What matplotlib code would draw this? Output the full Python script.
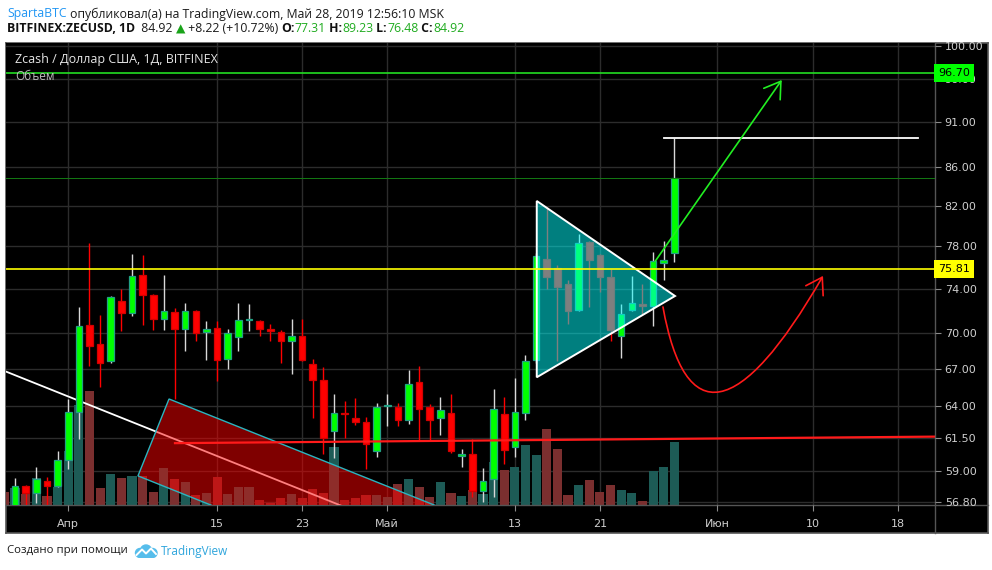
import numpy as np
import pandas as pd
import matplotlib
matplotlib.use('Agg')
import matplotlib.pyplot as plt
import matplotlib.dates as mdates
import matplotlib.transforms as mtransforms
from matplotlib.patches import Polygon, FancyArrowPatch, Circle, Rectangle
from matplotlib.path import Path
from matplotlib.lines import Line2D
from matplotlib.ticker import FixedLocator, NullLocator, FuncFormatter

W, H = 992, 570

# ---- data ----
candle_dates = pd.date_range('2019-03-27', '2019-05-28', freq='D')
opens = [56.5, 57.9, 57.4, 58.3, 57.9,
         59.8, 63.5, 70.7, 69.1, 67.6, 72.9, 71.8, 75.3, 73.4, 71.3,
         71.9, 70.4, 72.0, 70.1, 70.5, 67.8, 69.7, 71.15, 71.1, 70.4,
         70.1, 69.3, 69.75, 67.4, 66.1, 62.0, 63.4, 63.0, 62.7, 60.5,
         63.95, 63.9, 62.85, 65.9, 63.9, 63.06, 63.4, 60.15, 60.3, 57.6,
         58.4, 63.37, 60.8, 63.45, 67.75, 76.75, 75.9, 74.4, 72.1, 78.4,
         77.1, 75.1, 69.75, 72.1, 72.6, 72.4, 76.4, 77.31]
highs = [58.5, 58.0, 59.3, 58.6, 60.5,
         64.55, 72.3, 78.3, 71.6, 73.3, 74.0, 77.2, 77.1, 73.5, 75.3,
         72.2, 72.7, 72.1, 71.1, 71.1, 70.4, 72.7, 72.6, 71.2, 70.8,
         70.3, 71.3, 71.3, 67.8, 67.1, 64.95, 64.4, 64.6, 63.1, 64.2,
         64.95, 64.2, 66.9, 67.2, 64.1, 64.7, 64.95, 60.65, 61.4, 59.2,
         65.35, 64.7, 66.25, 68.16, 77.3, 81.9, 76.2, 74.75, 79.15, 78.5,
         77.2, 75.8, 72.6, 75.2, 74.4, 77.45, 78.5, 89.23]
lows = [56.0, 56.5, 56.7, 56.6, 57.85,
        59.15, 61.4, 67.2, 65.5, 67.5, 70.2, 71.5, 70.7, 70.3, 70.3,
        64.5, 68.5, 69.3, 67.75, 66.0, 67.0, 68.5, 70.2, 69.8, 69.3,
        67.5, 66.6, 67.6, 63.05, 60.3, 60.0, 61.5, 62.5, 59.15, 60.05,
        62.4, 62.4, 62.55, 61.35, 61.35, 61.7, 60.35, 59.3, 57.15, 56.8,
        57.15, 59.5, 60.05, 62.9, 67.5, 74.0, 67.6, 70.8, 71.95, 72.3,
        73.7, 69.3, 67.9, 71.95, 71.7, 70.6, 74.75, 76.48]
closes = [57.9, 57.4, 58.4, 57.9, 59.8,
          63.5, 70.6, 68.9, 67.5, 73.2, 71.8, 75.2, 73.4, 71.3, 72.0,
          70.4, 72.0, 70.0, 70.4, 67.75, 70.0, 71.2, 71.25, 70.4, 70.2,
          69.3, 69.75, 67.7, 66.1, 61.5, 63.4, 63.35, 62.7, 61.0, 63.9,
          64.05, 62.9, 65.75, 63.75, 62.9, 63.68, 60.5, 60.25, 57.6, 58.3,
          63.75, 60.6, 63.5, 67.66, 77.05, 75.1, 74.1, 72.0, 78.3, 76.65,
          75.1, 70.26, 71.7, 72.7, 72.4, 76.55, 76.7, 84.92]

vol_dates = pd.date_range('2019-03-26', '2019-05-28', freq='D')
volumes = [13, 17, 11, 27, 9, 18,
           54, 100, 114, 17, 31, 27, 29, 29, 13, 37,
           26, 23, 10, 12, 28, 11, 18, 18, 5, 2,
           7, 11, 7, 16, 12, 58, 5, 7, 10, 10,
           8, 21, 26, 18, 8, 23, 12, 9, 15, 11,
           43, 35, 38, 60, 50, 76, 56, 10, 20, 25,
           13, 20, 15, 12, 4, 34, 38, 63]
vol_first_up = False

price_ticks = [100.0, 96.0, 91.0, 86.0, 82.0, 78.0, 74.0, 70.0, 67.0, 64.0, 61.5, 59.0, 56.8]
date_ticks = ['2019-04-01', '2019-04-15', '2019-04-23', '2019-05-01', '2019-05-13',
              '2019-05-21', '2019-06-01', '2019-06-10', '2019-06-18']
date_labels = ['Апр', '15', '23', 'Май', '13', '21', 'Июн', '10', '18']

level_green = 96.70
level_yellow = 75.81
last_close = 84.92
last_high = 89.23

UP = '#00ff00'
UP_EDGE = '#22a085'
DOWN = '#ff0000'
VOL_UP = '#1d5b56'
VOL_DOWN = '#7b2f2f'
GRID = '#2c2c2c'
FRAME = '#555555'


def fx(px):
    return px / W


def fy(py):
    return 1 - py / H


def dnum(s, off=0.0):
    return mdates.date2num(pd.Timestamp(s)) + off


fig = plt.figure(figsize=(W / 100, H / 100), dpi=100, facecolor='white')

# black chart frame
bg = fig.add_axes([fx(6), fy(533), fx(988) - fx(6), (533 - 43) / H], zorder=0)
bg.set_facecolor('black')
bg.set_xticks([])
bg.set_yticks([])
for s in bg.spines.values():
    s.set_color(FRAME)
    s.set_linewidth(1.2)

rect = [fx(6), fy(505), fx(935) - fx(6), (505 - 43) / H]
ax_v = fig.add_axes(rect, zorder=1)
ax = fig.add_axes(rect, zorder=2, sharex=ax_v)
ax_v.set_facecolor('black')
ax.set_facecolor('none')

x_c = mdates.date2num(candle_dates)
x_v = mdates.date2num(vol_dates)
o = np.array(opens)
h = np.array(highs)
l = np.array(lows)
c = np.array(closes)
up = c >= o

ax.set_yscale('log')
ax.set_ylim(56.58, 100.34)
ax.set_xlim(dnum('2019-04-01', -5.85), dnum('2019-04-01', 81.51))

# grid behind volume
gtrans = mtransforms.blended_transform_factory(ax_v.transAxes, ax.transData)
for p in price_ticks:
    ax_v.add_line(Line2D([0, 1], [p, p], transform=gtrans, color=GRID, lw=1, zorder=1))
for d in date_ticks:
    ax_v.axvline(dnum(d), color=GRID, lw=1, zorder=1)

# volume
vol_up = [vol_first_up] + list(up)
ax_v.bar(x_v, volumes, width=0.86, color=[VOL_UP if u else VOL_DOWN for u in vol_up],
         zorder=2, linewidth=0)
ax_v.set_ylim(0, 462)
ax_v.tick_params(left=False, labelleft=False, bottom=False, labelbottom=False)
for s in ax_v.spines.values():
    s.set_visible(False)

# white trend line (behind candles)
ax.plot([dnum('2019-04-01', -7.35), dnum('2019-04-01', 26.49)], [67.29, 56.29],
        color='white', lw=1.3, zorder=2.5)

# candles
ax.vlines(x_c[up], l[up], h[up], color='#d8d8d8', lw=1.0, zorder=3)
ax.vlines(x_c[~up], l[~up], h[~up], color=DOWN, lw=1.0, zorder=3)
ax.bar(x_c[up], np.maximum(c[up] - o[up], 0.02), bottom=o[up], width=0.62,
       color=UP, edgecolor=UP_EDGE, linewidth=0.9, zorder=4)
ax.bar(x_c[~up], np.maximum(o[~up] - c[~up], 0.02), bottom=c[~up], width=0.62,
       color=DOWN, edgecolor='#d40000', linewidth=0.9, zorder=4)

# red rotated box
a0 = dnum('2019-04-01')
box = Polygon([(a0 + 9.48, 64.53), (a0 + 6.56, 58.66), (a0 + 44.18, 48.10), (a0 + 47.09, 52.92)],
              closed=True, facecolor=(1, 0, 0, 0.5), edgecolor='#2bb5c0', lw=1.0, zorder=5)
ax.add_patch(box)

# triangle
tri_pts = [(a0 + 44.06, 82.49), (a0 + 44.06, 66.29), (a0 + 57.06, 73.32)]
ax.add_patch(Polygon(tri_pts, closed=True, facecolor=(0, 1, 1, 0.5), edgecolor='none', zorder=6))
ax.add_patch(Polygon(tri_pts, closed=True, fill=False, edgecolor='white', lw=1.4, zorder=6.5))

# horizontal levels
ax.axhline(level_green, color='#22dd22', lw=1.2, zorder=7)
ax.axhline(level_yellow, color='#ffff00', lw=1.2, zorder=7)
ax.axhline(last_close, color='#137a13', lw=0.7, zorder=7)
ax.plot([a0 + 10.04, a0 + 81.98], [61.09, 61.59], color='#ff1a1a', lw=1.6, zorder=7)
ax.plot([a0 + 56.0, a0 + 79.9], [last_high, last_high], color='white', lw=1.3, zorder=7)

# green arrow
ax.add_patch(FancyArrowPatch((a0 + 55.2, 76.55), (a0 + 67.1, 95.84),
                             arrowstyle='->,head_length=0.7,head_width=0.45', mutation_scale=16,
                             color='#22ee22', lw=1.2, shrinkA=0, shrinkB=0, zorder=8))
# red curved arrow
curve = Path([(a0 + 55.93, 72.33), (a0 + 58.0, 62.10), (a0 + 63.17, 62.87), (a0 + 70.98, 75.17)],
             [Path.MOVETO, Path.CURVE4, Path.CURVE4, Path.CURVE4])
ax.add_patch(FancyArrowPatch(path=curve, arrowstyle='->,head_length=0.7,head_width=0.45',
                             mutation_scale=16, color='#ff1a1a', lw=1.2, zorder=8))

# axes styling
for s in ax.spines.values():
    s.set_visible(False)
ax.yaxis.tick_right()
ax.yaxis.set_major_locator(FixedLocator(price_ticks))
ax.yaxis.set_minor_locator(NullLocator())
ax.yaxis.set_major_formatter(FuncFormatter(lambda v, pos: f'{v:.2f}'))
ax.tick_params(axis='y', which='major', length=4, width=0.8, color='#8a8a8a',
               labelcolor='#cfcfcf', labelsize=8, pad=3)
ax.set_xticks([dnum(d) for d in date_ticks])
ax.set_xticklabels(date_labels)
ax.tick_params(axis='x', length=4, width=0.8, color='#8a8a8a', labelcolor='#cfcfcf',
               labelsize=8, pad=6)
for t in ax.get_xticklabels():
    t.set_family(['Liberation Sans Narrow', 'DejaVu Sans'])

# price labels on axis
ltrans = mtransforms.blended_transform_factory(ax.transAxes, ax.transData)
ax.text(1.003, level_green, '96.70', transform=ltrans, ha='left', va='center', fontsize=8,
        color='black', clip_on=False, zorder=20,
        bbox=dict(boxstyle='square,pad=0.35', fc='#00ff00', ec='none'))
ax.text(1.003, level_yellow, '75.81', transform=ltrans, ha='left', va='center', fontsize=8,
        color='black', clip_on=False, zorder=20,
        bbox=dict(boxstyle='square,pad=0.35', fc='#ffff00', ec='none'))

# legend texts inside chart
fig.text(fx(15), fy(60), 'Zcash / Доллар США, 1Д, BITFINEX', color='#e6e6e6', fontsize=9,
         family='Open Sans', va='center', zorder=30)
fig.text(fx(15), fy(77), 'Объем', color='#bdbdbd', fontsize=8.5, family='Open Sans',
         va='center', zorder=30)

# separators
fig.add_artist(Line2D([fx(935), fx(935)], [fy(43), fy(533)], color=FRAME, lw=1))
fig.add_artist(Line2D([fx(6), fx(988)], [fy(505), fy(505)], color=FRAME, lw=1))

# header with coloured pieces
renderer = fig.canvas.get_renderer()


def put_line(pieces, x_px, y_px, size):
    x = x_px
    for txt, col, wt in pieces:
        t = fig.text(x / W, fy(y_px), txt, color=col, fontsize=size, fontweight=wt,
                     family=['Open Sans', 'DejaVu Sans'], va='center', ha='left')
        bb = t.get_window_extent(renderer)
        x = bb.x1
    return x


GREEN_TXT = '#1fab1f'
put_line([('SpartaBTC', '#2196f3', 'normal'),
          (' опубликовал(а) на TradingView.com, Май 28, 2019 12:56:10 MSK', '#1a1a1a', 'normal')],
         7, 14, 8.8)
put_line([('BITFINEX:ZECUSD, 1D', '#111111', 'bold'),
          ('  84.92 ', '#1a1a1a', 'normal'),
          ('▲', '#19a319', 'normal'),
          (' +8.22 (+10.72%) ', '#1a1a1a', 'normal'),
          ('O:', '#111111', 'bold'), ('77.31', GREEN_TXT, 'normal'),
          (' H:', '#111111', 'bold'), ('89.23', GREEN_TXT, 'normal'),
          (' L:', '#111111', 'bold'), ('76.48', GREEN_TXT, 'normal'),
          (' C:', '#111111', 'bold'), ('84.92', GREEN_TXT, 'normal')],
         7, 29, 8.8)

# footer
put_line([('Создано при помощи', '#1a1a1a', 'normal')], 7, 551, 8.2)
logo = fig.add_axes([fx(134), fy(558), 24 / W, 14 / H])
logo.set_xlim(0, 24)
logo.set_ylim(0, 14)
logo.axis('off')
for cx, cy, r in [(6, 5, 4.5), (12, 7.5, 5.5), (18.5, 5, 4.5)]:
    logo.add_patch(Circle((cx, cy), r, color='#56bdeb'))
logo.add_patch(Rectangle((6, 0.5), 12.5, 5, color='#56bdeb'))
logo.plot([2.5, 8, 12, 17, 22], [3, 8.5, 4.5, 9.5, 4], color='white', lw=1.4)
fig.text(fx(161), fy(551), 'TradingView', color='#2ea5dc', fontsize=8.5,
         family=['Open Sans', 'DejaVu Sans'], va='center', ha='left')

fig.savefig('out.png', dpi=100, facecolor='white')
